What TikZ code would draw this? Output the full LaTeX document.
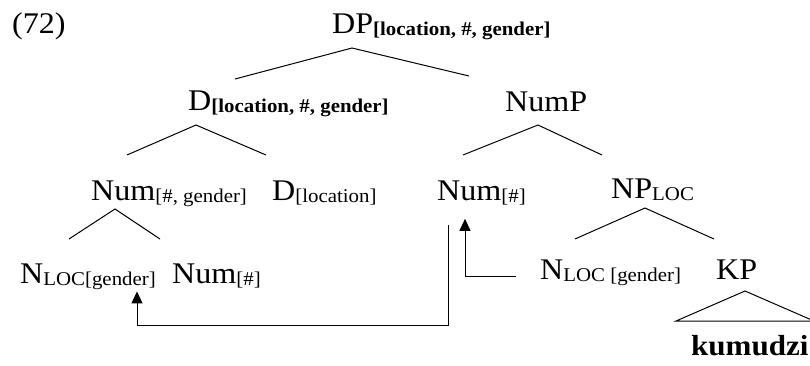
\documentclass[tikz,border=0pt]{standalone}
\usepackage{fontspec}
\setmainfont{Liberation Serif}[FakeStretch=1.07]
\usetikzlibrary{arrows.meta}
\newcommand{\fsub}[1]{\raisebox{-2pt}{\fontsize{19.5}{21}\selectfont #1}}
\newcommand{\bsub}[1]{\raisebox{-2pt}{\fontsize{19.5}{21}\selectfont\bfseries #1}}

\begin{document}
\begin{tikzpicture}[x=1pt, y=-1pt, >={Triangle[length=12pt,width=11pt]},
  lbl/.style={anchor=base west, inner sep=0pt, font=\fontsize{30}{33}\selectfont},
  branch/.style={line width=1pt},
  mv/.style={->, line width=1pt}]
  \useasboundingbox (0,0) rectangle (810,365);

  % labels
  \node[lbl] (ex) at (12,33) {(72)};
  \node[lbl] (dp) at (332,33) {DP\bsub{[location, \#, gender]}};
  \node[lbl] (d) at (188,110) {D\bsub{[location, \#, gender]}};
  \node[lbl] (nump) at (505,111) {NumP};
  \node[lbl] (numg) at (91,200) {Num\fsub{[\#, gender]}};
  \node[lbl] (dloc) at (272,200) {D\fsub{[location]}};
  \node[lbl] (numr) at (437,200) {Num\fsub{[\#]}};
  \node[lbl] (nploc) at (611,198) {NP\fsub{LOC}};
  \node[lbl] (nl1) at (20,283) {N\fsub{LOC[gender]}};
  \node[lbl] (numl) at (172,283) {Num\fsub{[\#]}};
  \node[lbl] (nl2) at (540,279) {N\fsub{LOC [gender]}};
  \node[lbl] (kp) at (716,279) {KP};
  \node[lbl, font=\fontsize{29}{32}\selectfont\bfseries] (kum) at (691,355) {kumudzi};

  % branches
  \coordinate (dpTop) at (352,48);
  \coordinate (dpL) at (235,79);
  \coordinate (dpR) at (469,76);
  \draw[branch] (dpL) -- (dpTop) -- (dpR);
  \coordinate (dTop) at (196,125);
  \coordinate (dL) at (127,155);
  \coordinate (dR) at (266,155);
  \draw[branch] (dL) -- (dTop) -- (dR);
  \coordinate (npTop) at (538,125);
  \coordinate (npL) at (463,155);
  \coordinate (npR) at (602,155);
  \draw[branch] (npL) -- (npTop) -- (npR);
  \coordinate (ngTop) at (115,209);
  \coordinate (ngL) at (69,239);
  \coordinate (ngR) at (160,239);
  \draw[branch] (ngL) -- (ngTop) -- (ngR);
  \coordinate (nlTop) at (645,208);
  \coordinate (nlL) at (575,239);
  \coordinate (nlR) at (714,239);
  \draw[branch] (nlL) -- (nlTop) -- (nlR);
  \coordinate (kpTop) at (745,291);
  \coordinate (kpL) at (676,321);
  \coordinate (kpR) at (814,321);
  \draw[branch] (kpL) -- (kpTop) -- (kpR) -- cycle;

  % movement arrows
  \coordinate (cA) at (448,325);
  \coordinate (cB) at (137,325);
  \draw[mv, shorten <=20pt, shorten >=2pt] (cA |- numr.south) -- (cA) -- (cB) -- (cB |- nl1.south);
  \coordinate (cC) at (465,276);
  \draw[mv, shorten <=24pt, shorten >=14pt] (cC -| nl2.west) -- (cC) -- (cC |- numr.south);
\end{tikzpicture}
\end{document}
